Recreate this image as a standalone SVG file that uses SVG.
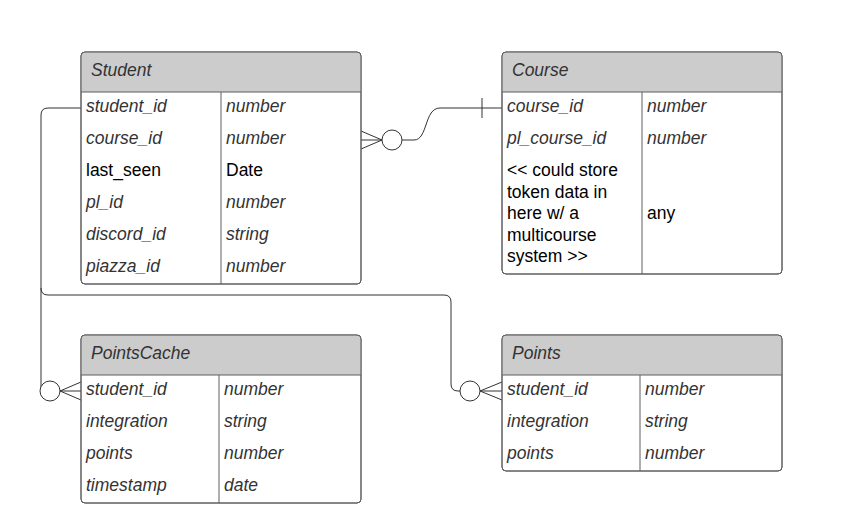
<svg xmlns="http://www.w3.org/2000/svg" width="862" height="528" viewBox="0 0 862 528">
<style>
.box{fill:#ffffff;stroke:#5e5e5e;stroke-width:1}
.hdr{fill:#cccccc;stroke:none}
.ln{stroke:#5e5e5e;stroke-width:1;fill:none}
.t{font-family:"Liberation Sans",Arial,sans-serif;font-size:17.5px;fill:#333333;font-style:italic}
.n{font-family:"Liberation Sans",Arial,sans-serif;font-size:17.5px;fill:#000000}
.c{stroke:#333333;stroke-width:1;fill:none}
.cw{stroke:#333333;stroke-width:1;fill:#ffffff}
</style>
<rect width="862" height="528" fill="#ffffff"/>

<g id="connectors">
  <!-- Student.course_id to Course.course_id -->
  <path class="c" d="M361,131 L382,140 M361,149 L382,140 M361,140 L382,140"/>
  <path class="c" d="M402,140 H414 C428,140 424,108 440,108 H502"/>
  <path class="c" d="M482,98 V118"/>
  <circle class="cw" cx="392" cy="140" r="10"/>
  <!-- Student.student_id to PointsCache.student_id and Points.student_id -->
  <path class="c" d="M81,108 H48 Q41,108 41,115 V391"/>
  <path class="c" d="M41,288 Q41,295 48,295 H444 Q451,295 451,302 V384 Q451,391 458,391 H460"/>
  <path class="c" d="M60,391 L81,382 M60,391 L81,400 M60,391 L81,391"/>
  <circle class="cw" cx="50" cy="391" r="10"/>
  <path class="c" d="M480,391 L502,382 M480,391 L502,400 M480,391 L502,391"/>
  <circle class="cw" cx="470" cy="391" r="10"/>
</g>

<g id="student">
  <rect class="box" x="81" y="52" width="280" height="232" rx="4"/>
  <path class="hdr" d="M85,52.5 H357 Q360.5,52.5 360.5,56 V92 H81.5 V56 Q81.5,52.5 85,52.5 Z"/>
  <rect class="box" x="81" y="52" width="280" height="232" rx="4" style="fill:none"/>
  <path class="ln" d="M81,92 H361 M221,92 V284"/>
  <text class="t" x="91" y="76">Student</text>
  <text class="t" x="86" y="111.5">student_id</text><text class="t" x="226" y="111.5">number</text>
  <text class="t" x="86" y="143.5">course_id</text><text class="t" x="226" y="143.5">number</text>
  <text class="n" x="86" y="175.5">last_seen</text><text class="n" x="226" y="175.5">Date</text>
  <text class="t" x="86" y="207.5">pl_id</text><text class="t" x="226" y="207.5">number</text>
  <text class="t" x="86" y="239.5">discord_id</text><text class="t" x="226" y="239.5">string</text>
  <text class="t" x="86" y="271.5">piazza_id</text><text class="t" x="226" y="271.5">number</text>
</g>

<g id="course">
  <rect class="box" x="502" y="52" width="280" height="222" rx="4"/>
  <path class="hdr" d="M506,52.5 H778 Q781.5,52.5 781.5,56 V92 H502.5 V56 Q502.5,52.5 506,52.5 Z"/>
  <rect class="box" x="502" y="52" width="280" height="222" rx="4" style="fill:none"/>
  <path class="ln" d="M502,92 H782 M642,92 V274"/>
  <text class="t" x="512" y="76">Course</text>
  <text class="t" x="507" y="111.5">course_id</text><text class="t" x="647" y="111.5">number</text>
  <text class="t" x="507" y="143.5">pl_course_id</text><text class="t" x="647" y="143.5">number</text>
  <text class="n" x="507" y="176">&lt;&lt; could store</text>
  <text class="n" x="507" y="197.5">token data in</text>
  <text class="n" x="507" y="219">here w/ a</text>
  <text class="n" x="507" y="240.5">multicourse</text>
  <text class="n" x="507" y="262">system &gt;&gt;</text>
  <text class="n" x="647" y="218.5">any</text>
</g>

<g id="pointscache">
  <rect class="box" x="81" y="335" width="280" height="168" rx="4"/>
  <path class="hdr" d="M85,335.5 H357 Q360.5,335.5 360.5,339 V375 H81.5 V339 Q81.5,335.5 85,335.5 Z"/>
  <rect class="box" x="81" y="335" width="280" height="168" rx="4" style="fill:none"/>
  <path class="ln" d="M81,375 H361 M219,375 V503"/>
  <text class="t" x="91" y="359">PointsCache</text>
  <text class="t" x="86" y="394.5">student_id</text><text class="t" x="224" y="394.5">number</text>
  <text class="t" x="86" y="426.5">integration</text><text class="t" x="224" y="426.5">string</text>
  <text class="t" x="86" y="458.5">points</text><text class="t" x="224" y="458.5">number</text>
  <text class="t" x="86" y="490.5">timestamp</text><text class="t" x="224" y="490.5">date</text>
</g>

<g id="points">
  <rect class="box" x="502" y="335" width="280" height="136" rx="4"/>
  <path class="hdr" d="M506,335.5 H778 Q781.5,335.5 781.5,339 V375 H502.5 V339 Q502.5,335.5 506,335.5 Z"/>
  <rect class="box" x="502" y="335" width="280" height="136" rx="4" style="fill:none"/>
  <path class="ln" d="M502,375 H782 M640,375 V471"/>
  <text class="t" x="512" y="359">Points</text>
  <text class="t" x="507" y="394.5">student_id</text><text class="t" x="645" y="394.5">number</text>
  <text class="t" x="507" y="426.5">integration</text><text class="t" x="645" y="426.5">string</text>
  <text class="t" x="507" y="458.5">points</text><text class="t" x="645" y="458.5">number</text>
</g>
</svg>
